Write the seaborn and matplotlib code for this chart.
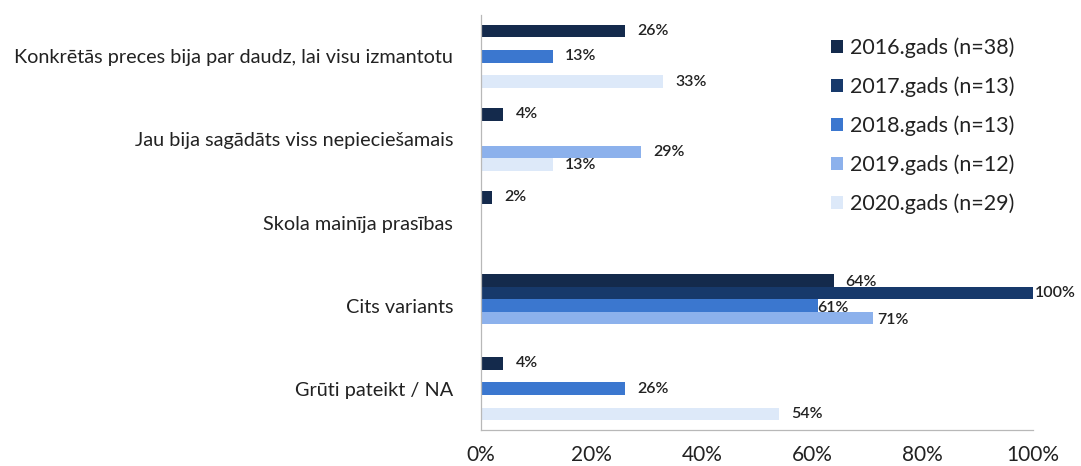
import numpy as np
import pandas as pd
import seaborn as sns
import matplotlib.pyplot as plt
from matplotlib.patches import Patch
from matplotlib.ticker import FuncFormatter, FixedLocator

categories = [
    "Konkrētās preces bija par daudz, lai visu izmantotu",
    "Jau bija sagādāts viss nepieciešamais",
    "Skola mainīja prasības",
    "Cits variants",
    "Grūti pateikt / NA",
]
years = ["2016.gads (n=38)", "2017.gads (n=13)", "2018.gads (n=13)",
         "2019.gads (n=12)", "2020.gads (n=29)"]
nan = np.nan
v2016 = [26, 4, 2, 64, 4]
v2017 = [nan, nan, nan, 100, nan]
v2018 = [13, nan, nan, 61, 26]
v2019 = [nan, 29, nan, 71, nan]
v2020 = [33, 13, nan, nan, 54]
colors = ["#142a4c", "#17396b", "#3b77cf", "#8cb1ec", "#dde9f9"]

rows = []
for year, vals in zip(years, [v2016, v2017, v2018, v2019, v2020]):
    for cat, v in zip(categories, vals):
        rows.append({"category": cat, "year": year, "value": v})
df = pd.DataFrame(rows)

sns.set_theme(style="white")
plt.rcParams["font.family"] = ["Lato", "DejaVu Sans"]

fig = plt.figure(figsize=(10.81, 4.66), dpi=100)
ax = fig.add_axes([0.445, 0.077, 0.5105, 0.891])

sns.barplot(data=df.dropna(), x="value", y="category", hue="year",
            order=categories, hue_order=years, palette=colors,
            width=0.76, dodge=True, orient="h", ax=ax,
            saturation=1, legend=False, linewidth=0, err_kws={"linewidth": 0})

# label offsets (points) for the crowded "Cits variants" group
crowded = {(3, 0): (8, -1.5), (3, 1): (1.5, 0), (3, 2): (0, -1.5), (3, 3): (3, -1)}
for hi, cont in enumerate(ax.containers):
    anns = ax.bar_label(cont, fmt="%.0f%%", padding=9, fontsize=11.5,
                        color="#222222", fontweight="semibold")
    for bar, ann in zip(cont, anns):
        ci = int(round(bar.get_y() + bar.get_height() / 2))
        if (ci, hi) in crowded:
            ann.xyann = crowded[(ci, hi)]

ax.set_xlim(0, 100)
ax.set_ylim(len(categories) - 0.5, -0.5)
ax.set_xticks([0, 20, 40, 60, 80, 100])
ax.xaxis.set_major_formatter(FuncFormatter(lambda x, p: f"{x:.0f}%"))
ax.tick_params(axis="x", labelsize=15, labelcolor="#222222", direction="inout",
               length=5, width=0.8, pad=8, color="#b0b0b0")
ax.tick_params(axis="y", labelsize=14.3, labelcolor="#222222", length=0, pad=20)
ax.yaxis.set_minor_locator(FixedLocator(np.arange(-0.5, len(categories), 1.0)))
ax.tick_params(axis="y", which="minor", length=4, color="#b0b0b0", width=0.8)
ax.set_xlabel("")
ax.set_ylabel("")

for side in ["top", "right"]:
    ax.spines[side].set_visible(False)
for side in ["left", "bottom"]:
    ax.spines[side].set_color("#b8b8b8")
    ax.spines[side].set_linewidth(0.9)

handles = [Patch(facecolor=c, edgecolor="none") for c in colors]
leg = ax.legend(handles, years, loc="upper left", bbox_to_anchor=(0.635, 0.945),
                frameon=False, fontsize=15.5, handlelength=0.55, handleheight=0.55,
                handletextpad=0.3, labelspacing=0.85, borderpad=0,
                borderaxespad=0, labelcolor="#222222")

fig.savefig("out.png", dpi=100, facecolor="white")
